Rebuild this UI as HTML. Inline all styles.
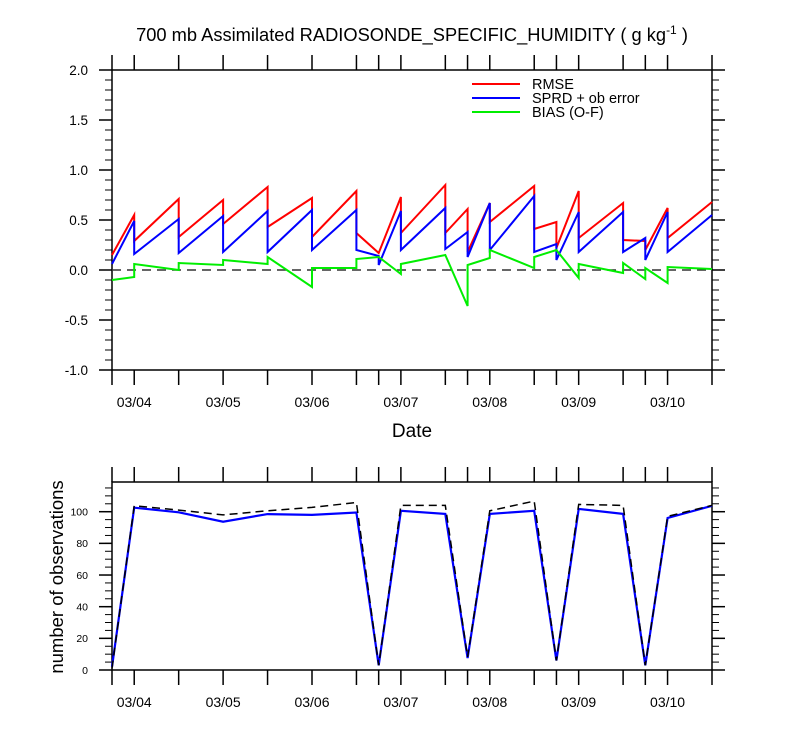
<!DOCTYPE html>
<html><head><meta charset="utf-8"><style>
html,body{margin:0;padding:0;background:#fff;}
svg{display:block;font-family:"Liberation Sans",Arial,sans-serif;}
</style></head><body>
<svg id="chart" width="800" height="750" viewBox="0 0 800 750" xmlns="http://www.w3.org/2000/svg">
<text x="412" y="41" font-size="18.3" text-anchor="middle">700 mb Assimilated RADIOSONDE_SPECIFIC_HUMIDITY ( g kg<tspan dy="-7" font-size="12">-1</tspan><tspan dy="7"> )</tspan></text>
<g id="top"></g>
<g id="bot"></g>
<text x="412" y="437" font-size="19" text-anchor="middle">Date</text>
<text transform="translate(63,577) rotate(-90)" font-size="18.5" text-anchor="middle">number of observations</text>
<g>
<line x1="472" y1="84" x2="520" y2="84" stroke="#ff0000" stroke-width="2"/>
<text x="532" y="89" font-size="14.5">RMSE</text>
<line x1="472" y1="98" x2="520" y2="98" stroke="#0000ff" stroke-width="2"/>
<text x="532" y="103" font-size="14.5">SPRD + ob error</text>
<line x1="472" y1="112" x2="520" y2="112" stroke="#00ee00" stroke-width="2"/>
<text x="532" y="117" font-size="14.5">BIAS (O-F)</text>
</g>
</svg>
<script>
// x in 6-hour steps from 03/03 18Z
const rmseX=[0,1,1,3,3,5,5,7,7,9,9,11,11,12,13,13,15,15,16,16,17,17,19,19,20,20,21,21,23,23,24,24,25,25,27];
const rmseY=[0.15,0.55,0.29,0.71,0.33,0.70,0.46,0.83,0.43,0.72,0.33,0.79,0.37,0.17,0.73,0.37,0.85,0.37,0.61,0.18,0.67,0.48,0.84,0.41,0.48,0.22,0.79,0.32,0.67,0.30,0.29,0.20,0.62,0.32,0.68];
const sprdX=[0,1,1,3,3,5,5,7,7,9,9,11,11,12,12,13,13,15,15,16,16,17,17,19,19,20,20,21,21,23,23,24,24,25,25,27];
const sprdY=[0.06,0.49,0.16,0.51,0.17,0.54,0.18,0.59,0.18,0.60,0.20,0.60,0.20,0.14,0.05,0.59,0.20,0.62,0.21,0.38,0.13,0.67,0.20,0.74,0.18,0.26,0.10,0.58,0.18,0.58,0.18,0.32,0.10,0.58,0.18,0.55];
const biasX=[0,1,1,3,3,5,5,7,7,9,9,11,11,12,13,13,15,16,16,17,17,19,19,20,21,21,23,23,24,24,25,25,27];
const biasY=[-0.10,-0.07,0.06,0.00,0.07,0.05,0.10,0.06,0.13,-0.17,0.02,0.02,0.11,0.13,-0.04,0.06,0.15,-0.36,0.05,0.12,0.20,0.02,0.13,0.20,-0.08,0.06,-0.03,0.07,-0.09,0.02,-0.13,0.03,0.01];
const obsX=[0,1,3,5,7,9,11,12,13,15,16,17,19,20,21,23,24,25,27];
const obsUsed=[2,102.5,99.6,93.7,98.5,98,99.5,3,100.6,98.6,7.5,98.6,100.6,6,101.8,98.6,3,96,103.7];
const obsTotal=[1,103.7,101,98,100.6,102.7,105.8,3,104,104,8.3,100.6,106.7,6,104.6,104,3,97,104];
const dateLabels=["03/04","03/05","03/06","03/07","03/08","03/09","03/10"];
const dateIdx=[1,5,9,13,17,21,25];
const topTicks=[2.0,1.5,1.0,0.5,0.0,-0.5,-1.0];
const botTicks=[0,20,40,60,80,100];

const NS="http://www.w3.org/2000/svg";
const L=112,R=712,NX=27;
const xs=i=>L+(R-L)*i/NX;
const yT=v=>70+(2-v)*100;
const yB=v=>670-v*1.583;
function mk(p,tag,at){const e=document.createElementNS(NS,tag);for(const k in at)e.setAttribute(k,at[k]);p.appendChild(e);return e;}

function panel(g,top,bot,yf,ticks,fmt,minorStep,minorMin,minorMax,fs,pre){
  const f=mk(g,'rect',{x:L,y:top,width:R-L,height:bot-top,fill:'none',stroke:'#000','stroke-width':1.5});
  
  
  obsX.forEach(i=>{
    const x=xs(i);
    mk(g,'line',{x1:x,y1:bot,x2:x,y2:bot+15,stroke:'#000','stroke-width':1.5});
    mk(g,'line',{x1:x,y1:top,x2:x,y2:top-15,stroke:'#000','stroke-width':1.5});
  });
  dateIdx.forEach((i,k)=>{
    const t=mk(g,'text',{x:xs(i),y:bot+37,'font-size':14,'text-anchor':'middle'});
    
    
    t.textContent=dateLabels[k];
  });
  for(let v=minorMin;v<=minorMax+1e-9;v+=minorStep){
    const y=yf(v);
    mk(g,'line',{x1:L,y1:y,x2:L-7,y2:y,stroke:'#000','stroke-width':1});
    mk(g,'line',{x1:R,y1:y,x2:R+7,y2:y,stroke:'#000','stroke-width':1});
  }
  ticks.forEach(v=>{
    const y=yf(v);
    mk(g,'line',{x1:L,y1:y,x2:L-13,y2:y,stroke:'#000','stroke-width':1.5});
    mk(g,'line',{x1:R,y1:y,x2:R+13,y2:y,stroke:'#000','stroke-width':1.5});
    const t=mk(g,'text',{x:L-24,y:y+fs*0.36,'font-size':fs,'text-anchor':'end'});
    
    
    t.textContent=fmt(v);
  });
}
function line(g,X,Y,yf,color,w,dash,name){
  const d=X.map((x,i)=>(i?'L':'M')+xs(x).toFixed(1)+','+yf(Y[i]).toFixed(1)).join('');
  const p=mk(g,'path',{d:d,fill:'none',stroke:color,'stroke-width':w,'stroke-linejoin':'miter'});
  if(dash)p.setAttribute('stroke-dasharray',dash);
  
  
}
const gt=document.getElementById('top'),gb=document.getElementById('bot');
panel(gt,70,370,yT,topTicks,v=>v.toFixed(1),0.1,-1,2,13.5,'top');
const z=mk(gt,'line',{x1:L,y1:yT(0),x2:R,y2:yT(0),stroke:'#333','stroke-width':1.5,'stroke-dasharray':'9,6'});


line(gt,rmseX,rmseY,yT,'#ff0000',2,null,'rmse-line');
line(gt,sprdX,sprdY,yT,'#0000ff',2,null,'sprd-line');
line(gt,biasX,biasY,yT,'#00ee00',2,null,'bias-line');
panel(gb,482,670,yB,botTicks,v=>String(v),5,0,115,10.5,'bottom');
line(gb,obsX,obsUsed,yB,'#0000ff',2.2,null,'obs-used-line');
line(gb,obsX,obsTotal,yB,'#000',1.5,'8,5','obs-total-line');
</script>
</body></html>
